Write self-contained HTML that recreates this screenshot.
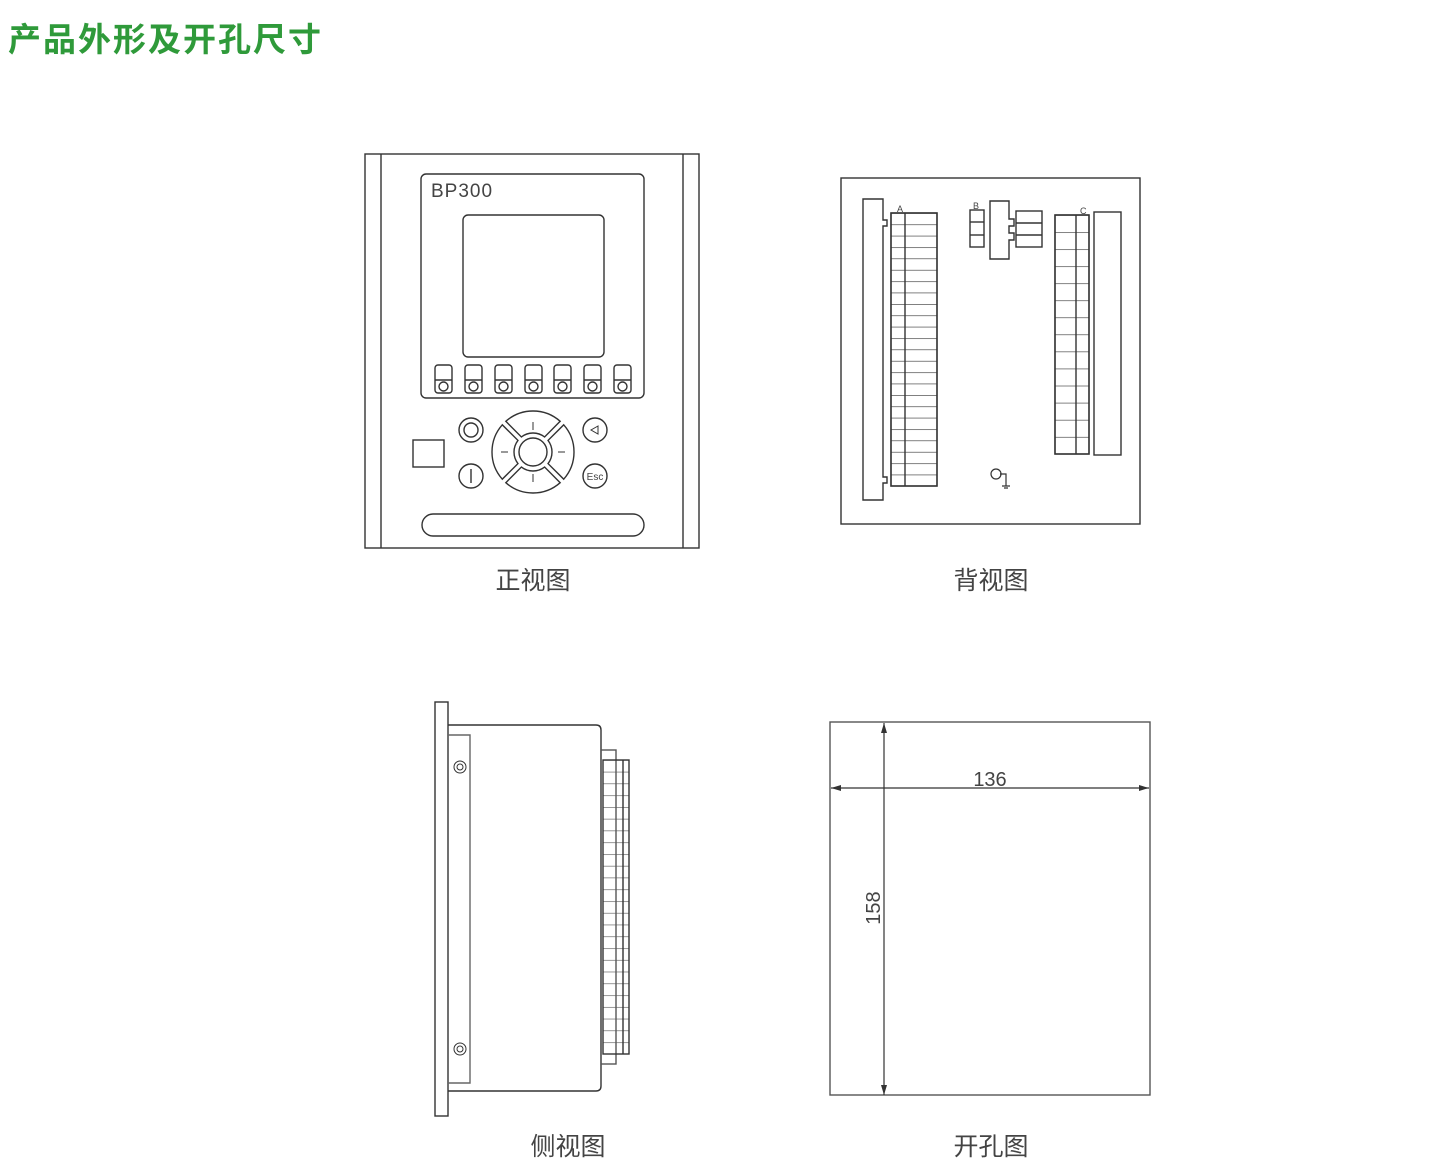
<!DOCTYPE html>
<html><head><meta charset="utf-8"><style>
html,body{margin:0;padding:0;background:#fff;}
body{width:1440px;height:1175px;position:relative;overflow:hidden;}
.t{position:absolute;left:8px;top:13px;font:bold 33px "Liberation Sans","Noto Sans CJK SC",sans-serif;color:#2f9a3a;letter-spacing:2px;}
svg{position:absolute;left:0;top:0;}
text{font-family:"Liberation Sans","Noto Sans CJK SC",sans-serif;fill:#444;}
</style></head><body>
<div class="t">产品外形及开孔尺寸</div>
<svg width="1440" height="1175" viewBox="0 0 1440 1175">
<defs>
<pattern id="pa" x="0" y="213" width="60" height="11.375" patternUnits="userSpaceOnUse"><line x1="0" y1="0" x2="60" y2="0" stroke="#333" stroke-width="1.3"/></pattern>
<pattern id="pc" x="0" y="215" width="60" height="17.07" patternUnits="userSpaceOnUse"><line x1="0" y1="0" x2="60" y2="0" stroke="#333" stroke-width="1.3"/></pattern>
<pattern id="ps" x="0" y="760" width="60" height="11.76" patternUnits="userSpaceOnUse"><line x1="0" y1="0" x2="60" y2="0" stroke="#555" stroke-width="1.2"/></pattern>
<marker id="ar" markerWidth="10" markerHeight="6" refX="10" refY="3" orient="auto-start-reverse" markerUnits="userSpaceOnUse"><path d="M0,0 L10,3 L0,6 Z" fill="#333"/></marker>
</defs>
<g fill="none" stroke="#333" stroke-width="1.4">
<rect x="365" y="154" width="334" height="394"/>
<line x1="381" y1="154" x2="381" y2="548"/>
<line x1="683" y1="154" x2="683" y2="548"/>
<rect x="421" y="174" width="223" height="224" rx="5"/>
<rect x="463" y="215" width="141" height="142" rx="5"/>
<g id="btn"><rect x="435" y="365" width="17" height="28" rx="3"/><line x1="435" y1="380" x2="452" y2="380"/><circle cx="443.5" cy="386.5" r="4.5"/></g>
<use href="#btn" x="30"/><use href="#btn" x="60"/><use href="#btn" x="90"/><use href="#btn" x="119"/><use href="#btn" x="149"/><use href="#btn" x="179"/>
<rect x="413" y="440" width="31" height="27"/>
<circle cx="471" cy="430" r="12"/><circle cx="471" cy="430" r="7"/>
<circle cx="471" cy="476" r="12"/><line x1="471" y1="469" x2="471" y2="483"/>
<circle cx="595" cy="430" r="12"/>
<circle cx="595" cy="476" r="12"/>
<g id="sec"><path d="M505.83,421.29 A41 41 0 0 1 560.17,421.29 L544.59,436.95 A19 19 0 0 0 521.41,436.95 Z"/></g>
<use href="#sec" transform="rotate(90 533 452)"/><use href="#sec" transform="rotate(180 533 452)"/><use href="#sec" transform="rotate(270 533 452)"/>
<circle cx="533" cy="452" r="14"/>
<rect x="422" y="514" width="222" height="22" rx="11"/>
<g stroke-width="1"><line x1="533" y1="422" x2="533" y2="430"/><line x1="533" y1="474" x2="533" y2="482"/><line x1="501" y1="452" x2="508" y2="452"/><line x1="558" y1="452" x2="565" y2="452"/><path d="M598,426 L591,430 L598,434 Z"/></g>
<rect x="841" y="178" width="299" height="346"/>
<path d="M863,199 H883 V220 H887 V226 H883 V477 H887 V483 H883 V500 H863 Z"/>
<rect x="891" y="213" width="46" height="273" fill="url(#pa)"/>
<rect x="891" y="213" width="46" height="273"/>
<line x1="905" y1="213" x2="905" y2="486"/>
<rect x="970" y="210" width="14" height="37"/><line x1="970" y1="222" x2="984" y2="222"/><line x1="970" y1="235" x2="984" y2="235"/>
<path d="M990,201 H1009 V219 H1014 V226 H1009 V233 H1014 V240 H1009 V259 H990 Z"/>
<rect x="1016" y="211" width="26" height="36"/><line x1="1016" y1="223" x2="1042" y2="223"/><line x1="1016" y1="235" x2="1042" y2="235"/>
<rect x="1055" y="215" width="34" height="239" fill="url(#pc)"/>
<rect x="1055" y="215" width="34" height="239"/>
<line x1="1076" y1="215" x2="1076" y2="454"/>
<rect x="1094" y="212" width="27" height="243"/>
<circle cx="996" cy="474" r="5" stroke-width="1.2"/>
<path d="M1000,474 H1006 V486 M1002,486 H1010 M1004,488 H1008" stroke-width="1.2"/>
<rect x="435" y="702" width="13" height="414"/>
<path d="M448,725 H596 Q601,725 601,730 V1086 Q601,1091 596,1091 H448"/>
<path d="M448,735 H470 V1083 H448" stroke="#666"/>
<circle cx="460" cy="767" r="6" stroke-width="1"/><circle cx="460" cy="767" r="3" stroke-width="1"/>
<circle cx="460" cy="1049" r="6" stroke-width="1"/><circle cx="460" cy="1049" r="3" stroke-width="1"/>
<rect x="601" y="750" width="15" height="314" stroke="#555"/>
<rect x="603" y="760" width="26" height="294" fill="url(#ps)" stroke="none"/>
<rect x="603" y="760" width="26" height="294" fill="none"/>
<line x1="623" y1="760" x2="623" y2="1054"/>
<rect x="830" y="722" width="320" height="373" stroke="#555"/>
<line x1="884" y1="1095" x2="884" y2="723" marker-end="url(#ar)" marker-start="url(#ar)" stroke-width="1.2"/>
<line x1="831" y1="788" x2="1149" y2="788" marker-end="url(#ar)" marker-start="url(#ar)" stroke-width="1.2"/>
</g>
<text x="431" y="197" font-size="19" letter-spacing="1" fill="#444">BP300</text>
<text x="595" y="480" font-size="10" text-anchor="middle">Esc</text>
<text x="897" y="212" font-size="9">A</text>
<text x="973" y="209" font-size="9">B</text>
<text x="1080" y="214" font-size="9">C</text>
<text x="990" y="786" font-size="20" text-anchor="middle">136</text>
<text x="0" y="0" font-size="20" text-anchor="middle" transform="translate(880,908) rotate(-90)">158</text>
<text x="533" y="589" font-size="25" text-anchor="middle">正视图</text>
<text x="991" y="589" font-size="25" text-anchor="middle">背视图</text>
<text x="568" y="1155" font-size="25" text-anchor="middle">侧视图</text>
<text x="991" y="1155" font-size="25" text-anchor="middle">开孔图</text>
</svg>
</body></html>
